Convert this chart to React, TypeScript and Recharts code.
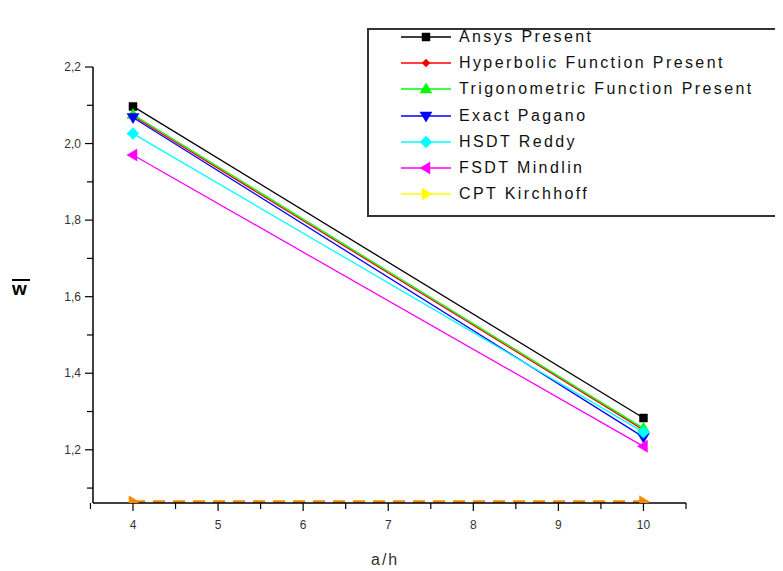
import React from 'react';
import { LineChart, Line, XAxis, YAxis } from 'recharts';

const ratios = [4, 10];
const ansysPresent = [2.097, 1.283];
const hyperbolicPresent = [2.072, 1.252];
const trigonometricPresent = [2.076, 1.256];
const exactPagano = [2.068, 1.233];
const hsdtReddy = [2.026, 1.246];
const fsdtMindlin = [1.97, 1.209];
const cptKirchhoff = [1.064, 1.064];

const yTicks = [1.1, 1.2, 1.3, 1.4, 1.5, 1.6, 1.7, 1.8, 1.9, 2.0, 2.1, 2.2];
const xTicks = [3.5, 4, 4.5, 5, 5.5, 6, 6.5, 7, 7.5, 8, 8.5, 9, 9.5, 10, 10.5];

const data = ratios.map((r, i) => ({
  ratio: r,
  ansys: ansysPresent[i],
  hyper: hyperbolicPresent[i],
  trig: trigonometricPresent[i],
  pagano: exactPagano[i],
  reddy: hsdtReddy[i],
  mindlin: fsdtMindlin[i],
  cpt: cptKirchhoff[i],
}));

type Shape = 'square' | 'diamond' | 'up' | 'down' | 'bigdiamond' | 'left' | 'right';

function markerPath(shape: Shape, cx: number, cy: number) {
  switch (shape) {
    case 'square':
      return `M${cx - 4},${cy - 4}h8v8h-8z`;
    case 'diamond':
      return `M${cx},${cy - 4}L${cx + 4},${cy}L${cx},${cy + 4}L${cx - 4},${cy}z`;
    case 'bigdiamond':
      return `M${cx},${cy - 6}L${cx + 6},${cy}L${cx},${cy + 6}L${cx - 6},${cy}z`;
    case 'up':
      return `M${cx},${cy - 6}L${cx + 6},${cy + 4}L${cx - 6},${cy + 4}z`;
    case 'down':
      return `M${cx},${cy + 6}L${cx + 6},${cy - 4}L${cx - 6},${cy - 4}z`;
    case 'left':
      return `M${cx - 6},${cy}L${cx + 4},${cy - 6}L${cx + 4},${cy + 6}z`;
    case 'right':
      return `M${cx + 6},${cy}L${cx - 4},${cy - 6}L${cx - 4},${cy + 6}z`;
  }
}

const makeDot = (shape: Shape, color: string) => (props: any) => {
  const { cx, cy, index } = props;
  if (cx == null || cy == null) return <g key={index} />;
  return <path key={index} d={markerPath(shape, cx, cy)} fill={color} stroke={color} strokeWidth={0.5} />;
};

const series = [
  { key: 'ansys', name: 'Ansys Present', color: '#000000', shape: 'square' as Shape },
  { key: 'hyper', name: 'Hyperbolic Function Present', color: '#ff0000', shape: 'diamond' as Shape },
  { key: 'trig', name: 'Trigonometric Function Present', color: '#00ff00', shape: 'up' as Shape },
  { key: 'pagano', name: 'Exact Pagano', color: '#0000ff', shape: 'down' as Shape },
  { key: 'reddy', name: 'HSDT Reddy', color: '#00ffff', shape: 'bigdiamond' as Shape },
  { key: 'mindlin', name: 'FSDT Mindlin', color: '#ff00ff', shape: 'left' as Shape },
  { key: 'cpt', name: 'CPT Kirchhoff', color: '#ffff00', shape: 'right' as Shape },
];

const FONT = 'Arial, "Liberation Sans", sans-serif';

const LegendBox = () => (
  <div
    style={{
      position: 'absolute',
      left: 359,
      top: 20,
      border: '2px solid #333',
      width: 407,
      height: 185,
      background: '#fff',
    }}
  >
    {series.map((s, i) => (
      <div key={s.key} style={{ position: 'absolute', left: 30, top: i * 26.2 - 2, height: 18, display: 'flex', alignItems: 'center' }}>
        <svg width={54} height={18}>
          <line x1={2} y1={9} x2={52} y2={9} stroke={s.color} strokeWidth={1.5} />
          <path d={markerPath(s.shape, 27, 9)} fill={s.color} stroke={s.color} strokeWidth={0.5} />
        </svg>
        <span style={{ marginLeft: 6, fontFamily: FONT, fontSize: 16, letterSpacing: 2.4, color: '#111', whiteSpace: 'nowrap' }}>{s.name}</span>
      </div>
    ))}
  </div>
);

const YTick = (props: any) => {
  const { x, y, payload } = props;
  const v = payload.value;
  const major = Math.round(v * 10) % 2 === 0;
  return (
    <g>
      <line x1={x} y1={y} x2={x - (major ? 8 : 6)} y2={y} stroke="#000" strokeWidth={1.2} />
      {major && (
        <text x={x - 12} y={y + 4} textAnchor="end" fontFamily={FONT} fontSize={12} fill="#333">
          {v.toFixed(1).replace('.', ',')}
        </text>
      )}
    </g>
  );
};

const XTick = (props: any) => {
  const { x, y, payload } = props;
  const v = payload.value;
  const major = Number.isInteger(v);
  return (
    <g>
      <line x1={x} y1={y} x2={x} y2={y + (major ? 8 : 6)} stroke="#000" strokeWidth={1.2} />
      {major && (
        <text x={x} y={y + 26} textAnchor="middle" fontFamily={FONT} fontSize={12} fill="#333">
          {v}
        </text>
      )}
    </g>
  );
};

export default function App() {
  return (
    <div style={{ position: 'relative', width: 775, height: 563 }}>
      <LineChart width={775} height={555} data={data} margin={{ top: 59, right: 97, bottom: 0, left: 0 }}>
        <XAxis
          dataKey="ratio"
          type="number"
          domain={[3.53, 10.5]}
          ticks={xTicks}
          interval={0}
          tickLine={false}
          tick={<XTick />}
          axisLine={{ stroke: '#000', strokeWidth: 1.5 }}
          height={60}
          tickSize={0}
          tickMargin={0}
        />
        <YAxis
          type="number"
          domain={[1.061, 2.2]}
          ticks={yTicks}
          interval={0}
          allowDataOverflow
          tickLine={false}
          tick={<YTick />}
          axisLine={{ stroke: '#000', strokeWidth: 1.5 }}
          width={85}
          tickSize={0}
          tickMargin={0}
        />
        {series.slice(0, 6).map((s) => (
          <Line
            key={s.key}
            dataKey={s.key}
            name={s.name}
            stroke={s.color}
            strokeWidth={1.3}
            dot={makeDot(s.shape, s.color)}
            activeDot={false}
            isAnimationActive={false}
          />
        ))}
        <Line
          dataKey="cpt"
          name="CPT Kirchhoff"
          stroke="#f58a00"
          strokeWidth={3}
          strokeDasharray="12 8"
          dot={makeDot('right', '#f58a00')}
          activeDot={false}
          isAnimationActive={false}
        />
      </LineChart>
      <LegendBox />
      {/* y axis title: w with a bar over it */}
      <div style={{ position: 'absolute', left: 4, top: 271, width: 18, height: 2, background: '#000' }} />
      <div style={{ position: 'absolute', left: 4, top: 270, fontFamily: FONT, fontSize: 19, fontWeight: 900, color: '#000', lineHeight: '22px' }}>
        w
      </div>
      <div style={{ position: 'absolute', left: 363, top: 543, fontFamily: FONT, fontSize: 16, letterSpacing: 2, color: '#333', lineHeight: '18px' }}>
        a/h
      </div>
    </div>
  );
}
